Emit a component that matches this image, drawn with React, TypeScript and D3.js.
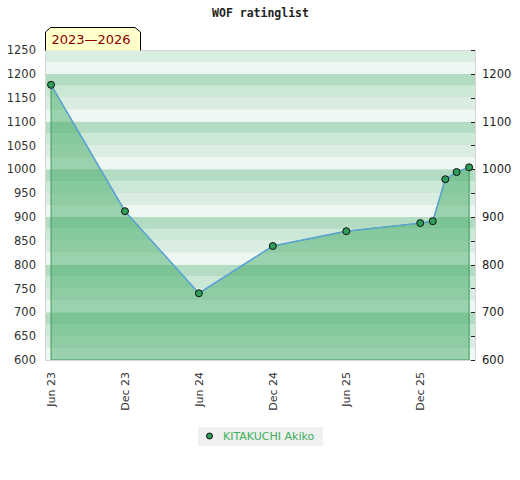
import { useRef, useEffect } from "react";
import * as d3 from "d3";

const dates = [
  "2023-06-01", "2023-12-01", "2024-06-01", "2024-12-01", "2025-06-01",
  "2025-12-01", "2026-01-01", "2026-02-01", "2026-03-01", "2026-04-01",
];
const ratings = [1177, 912, 740, 839, 870, 887, 891, 979, 994, 1004];
const tickDates = ["2023-06-01", "2023-12-01", "2024-06-01", "2024-12-01", "2025-06-01", "2025-12-01"];
const tickLabels = ["Jun 23", "Dec 23", "Jun 24", "Dec 24", "Jun 25", "Dec 25"];
const playerName = "KITAKUCHI Akiko";
const periodLabel = "2023\u20142026";

const FONT = "DejaVu Sans, Verdana, sans-serif";

export default function App() {
  const svgRef = useRef<SVGSVGElement>(null);

  useEffect(() => {
    if (!svgRef.current) return;
    const svg = d3.select(svgRef.current);
    svg.selectAll("*").remove();

    const parse = d3.utcParse("%Y-%m-%d");
    const data = dates.map((d, i) => ({ date: parse(d)!, value: ratings[i] }));

    const left = 45;
    const right = 476;
    const top = 50;
    const bottom = 360;

    const x = d3
      .scaleUtc()
      .domain([parse("2023-05-17")!, parse("2026-04-18")!])
      .range([left, right]);
    const y = d3.scaleLinear().domain([600, 1250]).range([bottom, top]);

    // Background stripes, 4 shades repeating every 100 points
    const shades = ["#eff7f2", "#daede1", "#cbe7d5", "#b3dcc2"];
    const bands = d3.range(600, 1250, 25);
    svg
      .append("g")
      .selectAll("rect")
      .data(bands)
      .enter()
      .append("rect")
      .attr("x", left)
      .attr("width", right - left)
      .attr("y", (d) => y(d + 25))
      .attr("height", (d) => y(d) - y(d + 25))
      .attr("fill", (d) => shades[((d % 100) / 25) | 0]);

    // Area under the curve
    const area = d3
      .area<{ date: Date; value: number }>()
      .x((d) => x(d.date))
      .y0(bottom)
      .y1((d) => y(d.value));
    svg
      .append("path")
      .datum(data)
      .attr("d", area)
      .attr("fill", "#3ba860")
      .attr("fill-opacity", 0.47)
      .attr("stroke", "#3a9a5c")
      .attr("stroke-width", 1);

    // Plot frame
    svg
      .append("rect")
      .attr("x", left + 0.5)
      .attr("y", top + 0.5)
      .attr("width", right - left - 1)
      .attr("height", bottom - top)
      .attr("fill", "none")
      .attr("stroke", "#d6d6d6");

    // Rating line
    const line = d3
      .line<{ date: Date; value: number }>()
      .x((d) => x(d.date))
      .y((d) => y(d.value));
    svg
      .append("path")
      .datum(data)
      .attr("d", line)
      .attr("fill", "none")
      .attr("stroke", "#5ca3d6")
      .attr("stroke-width", 1.5);

    svg
      .append("g")
      .selectAll("circle")
      .data(data)
      .enter()
      .append("circle")
      .attr("cx", (d) => x(d.date))
      .attr("cy", (d) => y(d.value))
      .attr("r", 3.5)
      .attr("fill", "#2f9e5a")
      .attr("stroke", "#111")
      .attr("stroke-width", 1);

    // Left axis
    svg
      .append("g")
      .selectAll("text")
      .data(d3.range(600, 1251, 50))
      .enter()
      .append("text")
      .attr("x", 36)
      .attr("y", (d) => y(d))
      .attr("dy", "0.36em")
      .attr("text-anchor", "end")
      .attr("font-family", FONT)
      .attr("font-size", "11.5px")
      .attr("fill", "#333")
      .text((d) => d);

    // Right axis
    svg
      .append("g")
      .selectAll("line")
      .data(d3.range(600, 1251, 50))
      .enter()
      .append("line")
      .attr("x1", right - 5)
      .attr("x2", right - 1)
      .attr("y1", (d) => Math.round(y(d)) + 0.5)
      .attr("y2", (d) => Math.round(y(d)) + 0.5)
      .attr("stroke", "#222");
    svg
      .append("g")
      .selectAll("text")
      .data(d3.range(600, 1201, 100))
      .enter()
      .append("text")
      .attr("x", 482)
      .attr("y", (d) => y(d))
      .attr("dy", "0.36em")
      .attr("font-family", FONT)
      .attr("font-size", "11.5px")
      .attr("fill", "#222")
      .text((d) => d);

    // Bottom axis, rotated labels
    svg
      .append("g")
      .selectAll("text")
      .data(tickDates)
      .enter()
      .append("text")
      .attr("transform", (d) => `translate(${x(parse(d)!)}, 372) rotate(-90)`)
      .attr("dy", "0.36em")
      .attr("text-anchor", "end")
      .attr("font-family", FONT)
      .attr("font-size", "11px")
      .attr("fill", "#333")
      .text((d, i) => tickLabels[i]);

    // Title
    svg
      .append("text")
      .attr("x", 260.5)
      .attr("y", 17)
      .attr("text-anchor", "middle")
      .attr("font-family", "DejaVu Sans Mono, monospace")
      .attr("font-weight", "bold")
      .attr("font-size", "11.5px")
      .attr("fill", "#222")
      .text("WOF ratinglist");

    // Period tag
    svg
      .append("path")
      .attr("d", "M45.5,50.5 V32 L50.5,27.5 H135 L140.5,32 V50.5")
      .attr("fill", "#ffffcc")
      .attr("stroke", "#000");
    svg
      .append("text")
      .attr("x", 91)
      .attr("y", 44)
      .attr("text-anchor", "middle")
      .attr("font-family", FONT)
      .attr("font-size", "13px")
      .attr("fill", "#8b0000")
      .text(periodLabel);

    // Legend
    const lg = svg.append("g");
    lg.append("rect")
      .attr("x", 198)
      .attr("y", 427)
      .attr("width", 125)
      .attr("height", 19)
      .attr("fill", "#f0f0f0");
    lg.append("circle")
      .attr("cx", 209.5)
      .attr("cy", 436)
      .attr("r", 3)
      .attr("fill", "#2f9e5a")
      .attr("stroke", "#111");
    lg.append("text")
      .attr("x", 223)
      .attr("y", 440)
      .attr("font-family", FONT)
      .attr("font-size", "11px")
      .attr("fill", "#3cae5c")
      .text(playerName);
  }, []);

  return (
    <svg
      ref={svgRef}
      width={520}
      height={480}
      style={{ position: "absolute", left: 0, top: 0, background: "#fff" }}
    />
  );
}
